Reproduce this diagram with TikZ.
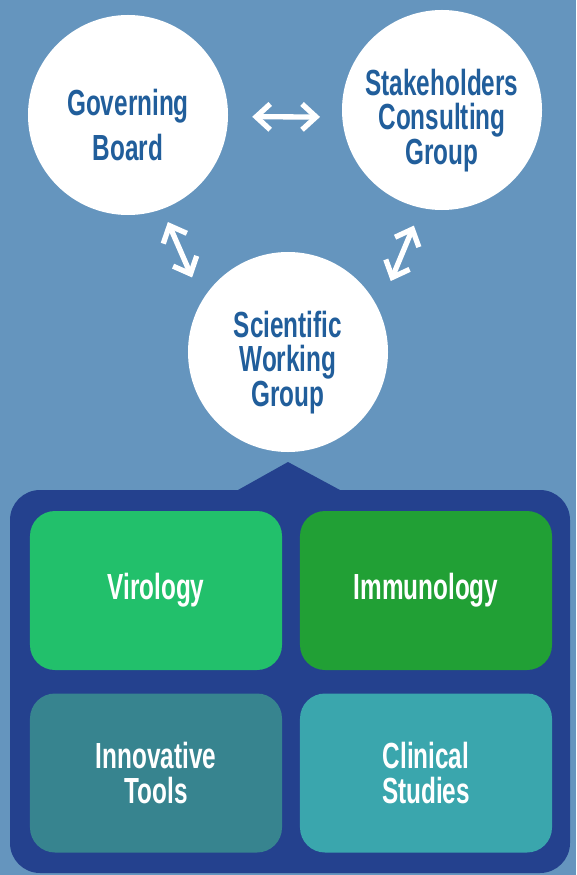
\documentclass[tikz,border=0pt]{standalone}
\usepackage{fontspec}
\newfontfamily\orgfont[FakeStretch=0.67]{Liberation Sans}
\usetikzlibrary{arrows.meta}
\definecolor{bgblue}{HTML}{6595BE}
\definecolor{panelblue}{HTML}{24418E}
\definecolor{bodytext}{HTML}{215E9B}
\definecolor{virofill}{HTML}{22C06B}
\definecolor{immunofill}{HTML}{21A035}
\definecolor{toolsfill}{HTML}{37848F}
\definecolor{clinicfill}{HTML}{3AA6AD}
\newcommand{\toppad}{\rule{0pt}{40pt}}
\tikzset{
  body/.style={
    circle, fill=white, minimum size=6cm, inner sep=0pt,
    align=center, text=bodytext,
    font=\orgfont\bfseries\fontsize{31}{29.5}\selectfont
  },
  area/.style={
    rectangle, rounded corners=0.75cm, minimum width=7.56cm,
    minimum height=4.77cm, inner sep=0pt, align=center, text=white,
    font=\orgfont\bfseries\fontsize{31}{30.5}\selectfont
  },
  link/.style={
    {Straight Barb[length=12pt,width=22pt]}-{Straight Barb[length=12pt,width=22pt]},
    draw=white, line width=4.5pt
  }
}

\begin{document}
\begin{tikzpicture}[x=0.03cm,y=-0.03cm]
  \fill[bgblue] (0,0) rectangle (576,875);
  \useasboundingbox (0,0) rectangle (576,875);

  % Panel holding the research areas.
  \fill[panelblue] (238,490) -- (288,462) -- (340,490)
    [rounded corners=0.9cm] -- (570,490) -- (570,873) -- (10,873) -- (10,490)
    [sharp corners] -- cycle;

  \node[body] (gb) at (128,115) {\toppad Governing\\[8.5pt]Board};
  \node[body] (scg) at (442,110) {\toppad Stakeholders\\Consulting\\Group};
  \node[body] (swg) at (288,352) {\toppad Scientific\\Working\\Group};

  \node[area, fill=virofill] (viro) at (156,590.5) {Virology};
  \node[area, fill=immunofill] (immuno) at (426,590.5) {Immunology};
  \node[area, fill=toolsfill] (tools) at (156,773) {Innovative\\Tools};
  \node[area, fill=clinicfill] (clinic) at (426,773) {Clinical\\Studies};

  % Two-way links between the bodies.
  \draw[link, shorten <=0.72cm, shorten >=0.66cm] (gb.-1) -- (scg.184);
  \draw[link, shorten <=0.42cm, shorten >=0.75cm] (gb.-70.5) -- (swg.149);
  \draw[link, shorten <=0.57cm, shorten >=0.93cm] (scg.-102.5) -- (swg.25.8);
\end{tikzpicture}
\end{document}
